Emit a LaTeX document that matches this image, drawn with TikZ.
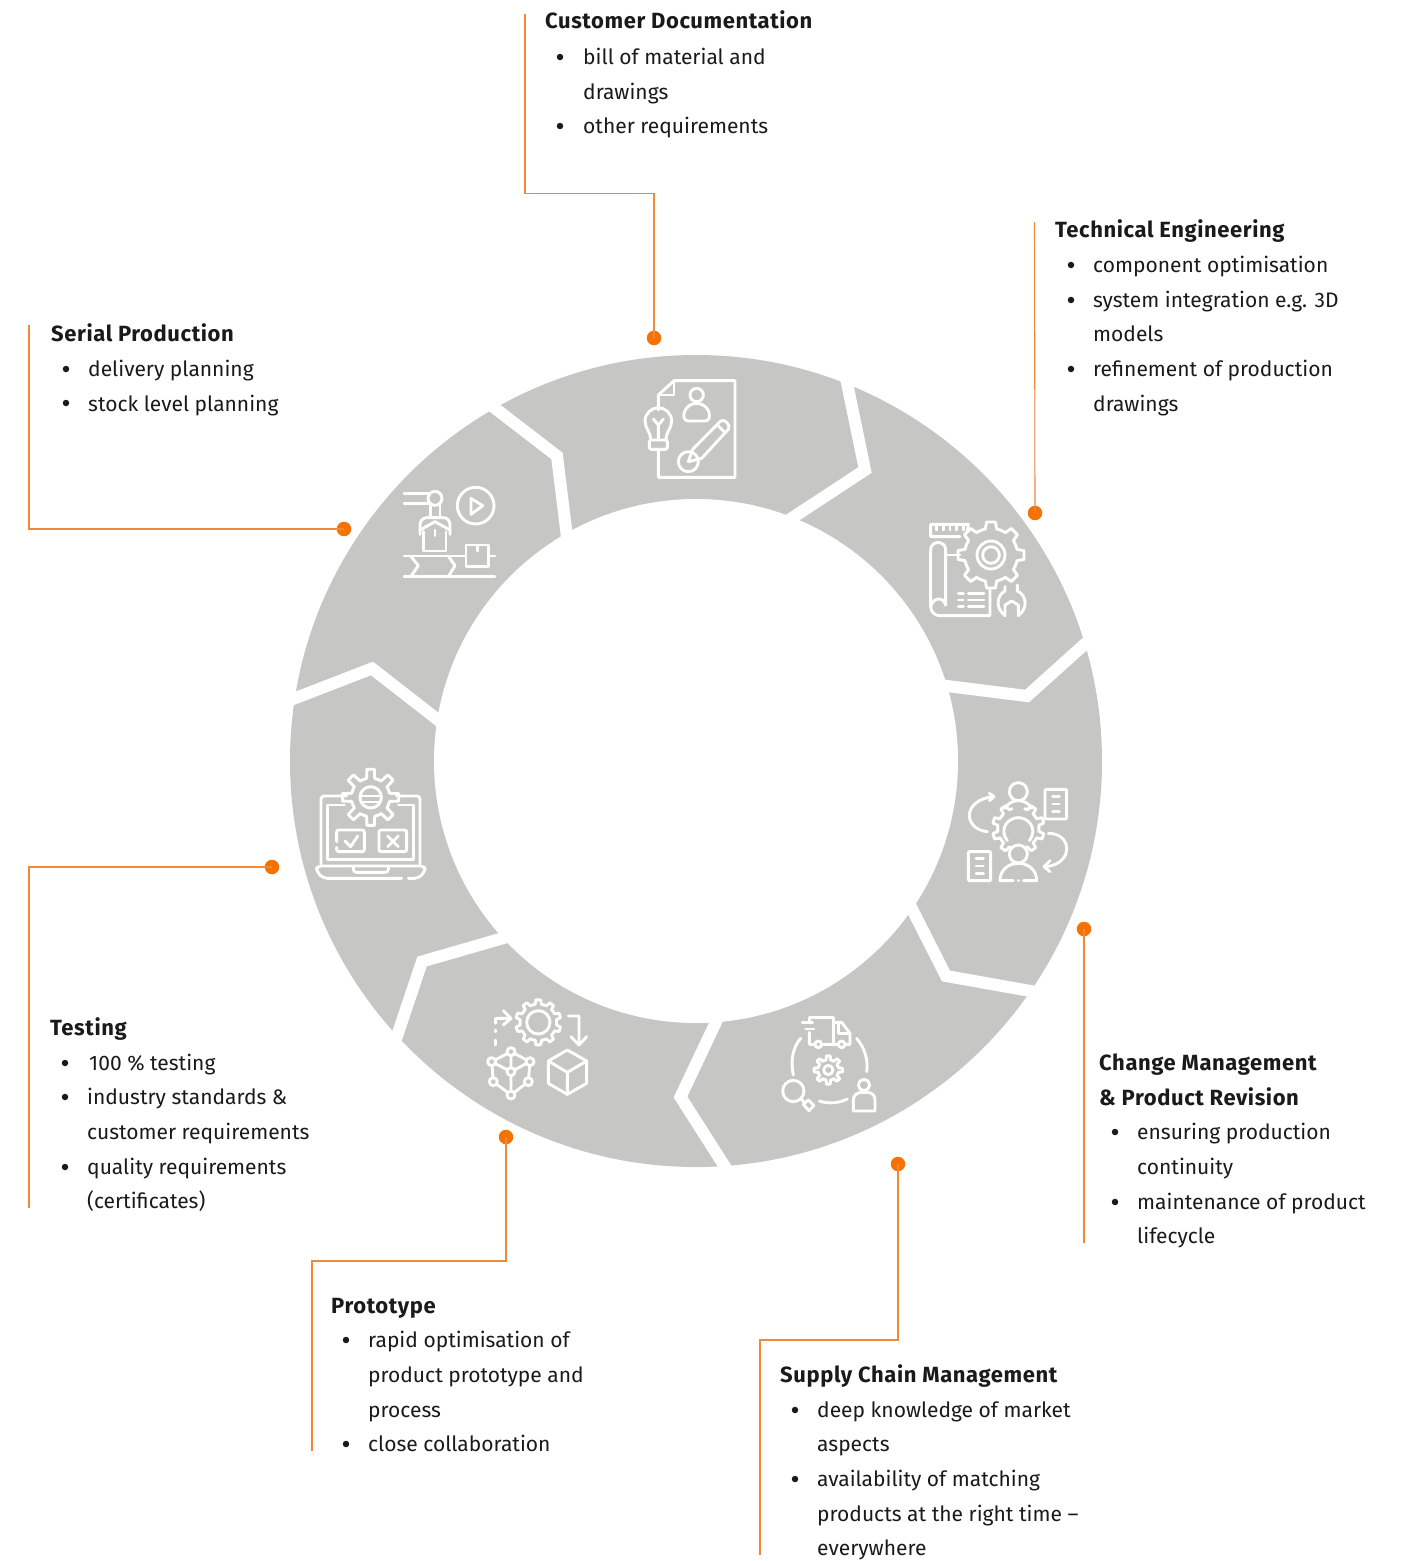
\documentclass[tikz,border=0pt]{standalone}
\usepackage{fontspec}
\setmainfont{Fira Sans}
\definecolor{ringg}{HTML}{C6C6C5}
\definecolor{orangeL}{HTML}{F08A38}
\definecolor{orangeD}{HTML}{F57100}
\definecolor{inkc}{HTML}{1A1A1A}
\tikzset{
 conn/.style={draw=orangeL,line width=1.1pt},
 dotn/.style={circle,fill=orangeD,inner sep=0pt,minimum size=14.5pt},
 cutl/.style={draw=white,line width=12pt,line join=miter},
 head/.style={anchor=base west,inner sep=0pt,text=inkc,font=\fontsize{22pt}{22pt}\selectfont\bfseries\addfontfeature{LetterSpace=2.7}},
 txt/.style={anchor=base west,inner sep=0pt,text=inkc,font=\fontsize{21pt}{21pt}\selectfont},
 bul/.style={circle,fill=inkc,inner sep=0pt,minimum size=6.5pt},
 ic/.style={draw=white,line width=2.9pt,line join=round,line cap=round,fill=none},
 icscope/.style={shift={(#1)},x=.33333pt,y=-.33333pt},
}
\newcommand\gearic[6]{% cx cy rin rout n teeth
  \pgfmathsetmacro\gstep{360/#5}
  \foreach \gi in {#6}{
    \pgfmathsetmacro\ga{90+\gi*\gstep}
    \draw[ic,shift={(#1,#2)}] (\ga-.5*\gstep:#3) -- (\ga-.27*\gstep:#3) -- (\ga-.17*\gstep:#4) -- (\ga+.17*\gstep:#4) -- (\ga+.27*\gstep:#3) -- (\ga+.5*\gstep:#3);
  }}
\begin{document}
\begin{tikzpicture}[x=1pt,y=-1pt]
\useasboundingbox (0,0) rectangle (1404,1561);
\fill[white] (0,0) rectangle (1404,1561);
% ring
\fill[ringg] (696,761) circle[radius=406];
\fill[white] (696,761) circle[radius=262];
% cuts between the seven arrows
\draw[cutl] (844.5,370) -- (847,383) -- (865,470) -- (792,518) -- (782,524.5);
\draw[cutl] (1096,634) -- (1086,643) -- (1027,696) -- (947,686) -- (933,684);
\draw[cutl] (1045,993.5) -- (1030.5,991) -- (946,976) -- (912.5,910) -- (906,897);
\draw[cutl] (732,1178) -- (724.5,1166) -- (680.5,1097) -- (715.5,1023) -- (720,1013);
\draw[cutl] (392,1050) -- (397,1036) -- (422,961.5) -- (503.5,938) -- (516,934.5);
\draw[cutl] (280,703.5) -- (293,699) -- (372,668.5) -- (437.5,719.5) -- (448,727.5);
\draw[cutl] (484,400) -- (494,407.5) -- (557,456) -- (566.5,533) -- (568,545);
% Icon: customer documentation
\begin{scope}[icscope={620,360}]
 \draw[ic] (115,150) -- (115,105) -- (162,62) -- (345,62) -- (345,352) -- (115,352) -- (115,270);
 \draw[ic] (115,105) -- (162,105) -- (162,62);
 \draw[ic] (92,240) .. controls (92,215) and (75,205) .. (75,183) .. controls (75,160) and (95,143) .. (115,143) .. controls (135,143) and (155,160) .. (155,183) .. controls (155,205) and (138,215) .. (138,240);
 \draw[ic,rounded corners=2pt] (88,240) -- (142,240) -- (142,268) -- (88,268) -- cycle;
 \draw[ic] (115,235) -- (115,195) (100,177) -- (115,195) -- (130,177);
 \draw[ic] (230,105) circle[radius=20];
 \draw[ic] (205,183) .. controls (180,183) and (190,130) .. (230,130) .. controls (270,130) and (280,183) .. (255,183) -- cycle;
 \draw[ic] (205,305) circle[radius=30];
 \draw[ic] (218,268) -- (302,183) .. controls (312,175) and (335,195) .. (325,208) -- (245,295);
 \draw[ic] (218,268) -- (205,305) -- (245,295);
 \draw[ic] (292,195) -- (315,218);
\end{scope}
% Icon: technical engineering
\begin{scope}[icscope={910,505}]
 \draw[ic] (172,80) -- (175,58) -- (62,58) -- (62,95) -- (150,95);
 \foreach \tx in {80,100,120,140,160}{\draw[ic] (\tx,58) -- (\tx,75);}
 \gearic{243}{150}{80}{100}{8}{0,...,7}
 \draw[ic] (243,150) circle[radius=42];
 \draw[ic] (243,150) circle[radius=25];
 \draw[ic] (107,300) -- (107,135) .. controls (107,105) and (62,105) .. (62,135) -- (62,305) .. controls (62,320) and (75,332) .. (88,332) -- (240,332) -- (240,250);
 \draw[ic] (107,300) .. controls (100,275) and (70,275) .. (62,305);
 \draw[ic] (107,150) -- (150,150);
 \foreach \ty in {265,285,305}{\draw[ic] (145,\ty) -- (160,\ty) (175,\ty) -- (222,\ty);}
 \draw[ic] (285,245) -- (285,258) .. controls (260,270) and (255,310) .. (285,332) -- (285,300) -- (305,288) -- (325,300) -- (325,332) .. controls (355,310) and (350,270) .. (322,258) -- (322,240);
\end{scope}
% Icon: change management
\begin{scope}[icscope={950,770}]
 \draw[ic] (205,65) circle[radius=27];
 \draw[ic] (165,115) .. controls (175,98) and (190,92) .. (205,92) .. controls (220,92) and (235,98) .. (245,115);
 \gearic{205}{175}{62}{78}{10}{2,3,4,6,7,8,1,9}
 \draw[ic] (172,212) .. controls (145,175) and (175,143) .. (205,143) .. controls (235,143) and (265,175) .. (238,212);
 \draw[ic] (205,252) circle[radius=27];
 \draw[ic] (190,332) -- (150,332) .. controls (150,300) and (175,280) .. (205,280) .. controls (235,280) and (260,300) .. (260,332) -- (220,332);
 \draw[ic] (205,332) -- (205,332.1);
 \draw[ic,rounded corners=1pt] (285,58) rectangle (350,147);
 \foreach \ty in {80,102,125}{\draw[ic] (308,\ty) -- (328,\ty);}
 \draw[ic,rounded corners=1pt] (55,245) rectangle (122,332);
 \foreach \ty in {265,288,310}{\draw[ic] (78,\ty) -- (100,\ty);}
 \draw[ic] (112,185) .. controls (40,178) and (35,90) .. (130,80);
 \draw[ic] (118,70) -- (132,80) -- (118,92);
 \draw[ic] (295,190) .. controls (370,190) and (370,285) .. (285,290);
 \draw[ic] (300,272) -- (282,290) -- (300,305);
\end{scope}
% Icon: supply chain
\begin{scope}[icscope={770,1005}]
 \draw[ic] (118,82) -- (118,118) -- (135,118) (155,118) -- (205,118) (225,118) -- (240,118) -- (240,85) -- (215,52) -- (190,52);
 \draw[ic] (118,38) -- (190,38) -- (190,118);
 \draw[ic] (118,38) -- (118,50) (97,52) -- (128,52) (107,72) -- (132,72);
 \draw[ic] (205,55) -- (205,85) -- (238,85);
 \draw[ic] (145,118) circle[radius=10];
 \draw[ic] (215,118) circle[radius=10];
 \draw[ic] (92,100) .. controls (70,125) and (60,165) .. (70,210);
 \draw[ic] (260,100) .. controls (285,130) and (295,165) .. (290,200);
 \draw[ic] (148,288) .. controls (175,297) and (205,295) .. (232,282);
 \gearic{175}{195}{31}{43}{8}{0,...,7}
 \draw[ic] (175,195) circle[radius=14];
 \draw[ic] (70,258) circle[radius=32];
 \draw[ic] (92,280) -- (102,291);
 \draw[ic] (100,298) -- (115,285) -- (132,302) -- (117,317) -- cycle;
 \draw[ic] (282,240) circle[radius=17];
 \draw[ic] (250,318) -- (250,285) .. controls (250,270) and (262,262) .. (275,262) -- (290,262) .. controls (305,262) and (315,270) .. (315,285) -- (315,318) -- cycle;
\end{scope}
% Icon: prototype
\begin{scope}[icscope={475,990}]
 \gearic{190}{97}{55}{68}{10}{0,...,9}
 \draw[ic] (190,97) circle[radius=35];
 \draw[ic] (62,100) -- (62,85) -- (105,85) (85,62) -- (108,85) -- (85,105);
 \draw[ic] (62,120) -- (62,125) (62,150) -- (62,165);
 \draw[ic] (280,78) -- (312,78) -- (312,165) (288,140) -- (312,165) -- (335,140);
 \draw[ic] (108,185) -- (50,215) -- (55,275) -- (108,315) -- (160,275) -- (165,215) -- cycle;
 \draw[ic] (50,215) -- (108,245) -- (165,215) (108,245) -- (108,315) (108,185) -- (108,245);
 \foreach \nx/\ny in {108/185,50/215,165/215,108/245,55/275,160/275,108/315}{\draw[ic,fill=ringg] (\nx,\ny) circle[radius=12];}
 \draw[ic] (277,180) -- (335,213) -- (335,280) -- (277,313) -- (220,280) -- (220,213) -- cycle;
 \draw[ic] (220,213) -- (277,247) -- (335,213) (277,247) -- (277,313);
\end{scope}
% Icon: testing
\begin{scope}[icscope={305,760}]
 \draw[ic,rounded corners=3pt] (48,312) -- (48,108) -- (125,108);
 \draw[ic,rounded corners=3pt] (275,108) -- (345,108) -- (345,312);
 \draw[ic] (118,135) -- (68,135) -- (68,298) -- (325,298) -- (325,135) -- (280,135);
 \draw[ic,rounded corners=4pt] (290,355) -- (55,355) -- (35,335) -- (35,318) -- (360,318) -- (360,335) -- (340,355) -- (310,355);
 \draw[ic,rounded corners=3pt] (145,318) -- (145,337) -- (250,337) -- (250,318);
 \gearic{197}{112}{58}{85}{8}{0,...,7}
 \draw[ic] (197,112) circle[radius=32];
 \draw[ic] (165,108) -- (230,108) (168,126) -- (226,126);
 \draw[ic,rounded corners=2pt] (95,245) -- (95,210) -- (178,210) -- (178,275) -- (95,275) -- (95,262);
 \draw[ic] (120,243) -- (137,260) -- (158,228);
 \draw[ic,rounded corners=2pt] (222,210) rectangle (305,275);
 \draw[ic] (248,228) -- (280,260) (280,228) -- (248,260);
\end{scope}
% Icon: serial production
\begin{scope}[icscope={390,475}]
 \draw[ic] (42,55) -- (118,55) (42,85) -- (118,85);
 \draw[ic] (135,70) circle[radius=21];
 \draw[ic] (122,92) -- (122,125) (150,92) -- (150,125);
 \draw[ic] (90,178) -- (90,150) .. controls (90,137) and (100,128) .. (110,128) -- (160,128) .. controls (172,128) and (180,137) .. (180,150) -- (180,178);
 \draw[ic] (90,165) -- (135,140) -- (180,165);
 \draw[ic] (100,170) -- (100,228) -- (168,228) -- (168,170);
 \draw[ic] (135,165) -- (135,182);
 \draw[ic] (257,92) circle[radius=55];
 \draw[ic] (243,70) -- (278,92) -- (243,118) -- cycle;
 \draw[ic] (42,243) -- (228,243) (295,243) -- (315,243) (42,305) -- (315,305);
 \draw[ic] (62,243) -- (85,272) -- (62,305) (175,243) -- (195,272) -- (175,305);
 \draw[ic] (228,210) rectangle (295,275);
 \draw[ic] (262,210) -- (262,228);
\end{scope}
% Customer Documentation
\node[dotn] (cdDot) at (654,338) {};
\coordinate (cdEnd) at (525,14);
\coordinate (cdB1) at (525,193.5);
\coordinate (cdB2) at (654,193.5);
\draw[conn] (cdEnd) -- (cdB1) -- (cdB2) -- (cdDot.center);
\node[head] (cdH) at (545,28) {Customer Documentation};
\node[bul] (cdB) at (560,57) {};
\node[txt] (cdA) at (583,64) {bill of material and};
\node[txt] (cdC) at (583,99) {drawings};
\node[bul] (cdE) at (560,126) {};
\node[txt] (cdF) at (583,133) {other requirements};
% Technical Engineering
\node[dotn] (teDot) at (1035,513) {};
\coordinate (teEnd) at (1034.5,222);
\draw[conn] (teEnd) -- (teDot.center);
\node[head] (teH) at (1055,237) {Technical Engineering};
\node[bul] (teB1) at (1071,265) {};
\node[txt] (teA) at (1093,272) {component optimisation};
\node[bul] (teB2) at (1071,300) {};
\node[txt] (teC) at (1093,307) {system integration e.g. 3D};
\node[txt] (teD) at (1093,341) {models};
\node[bul] (teB3) at (1071,369) {};
\node[txt] (teE) at (1093,376) {refinement of production};
\node[txt] (teF) at (1093,411) {drawings};
% Serial Production
\node[dotn] (spDot) at (344,529) {};
\coordinate (spEnd) at (29,325);
\coordinate (spB1) at (29,529);
\draw[conn] (spEnd) -- (spB1) -- (spDot.center);
\node[head] (spH) at (51,341) {Serial Production};
\node[bul] (spB1n) at (66,369) {};
\node[txt] (spA) at (88,376) {delivery planning};
\node[bul] (spB2n) at (66,403) {};
\node[txt] (spC) at (88,411) {stock level planning};
% Testing
\node[dotn] (tsDot) at (272,867) {};
\coordinate (tsEnd) at (29,1208);
\coordinate (tsB1) at (29,867);
\draw[conn] (tsEnd) -- (tsB1) -- (tsDot.center);
\node[head] (tsH) at (50,1035) {Testing};
\node[bul] (tsB1n) at (65,1063) {};
\node[txt] (tsA) at (89,1070) {100 \% testing};
\node[bul] (tsB2n) at (65,1097) {};
\node[txt] (tsC) at (87,1104) {industry standards \&};
\node[txt] (tsD) at (87,1139) {customer requirements};
\node[bul] (tsB3n) at (65,1167) {};
\node[txt] (tsE) at (87,1174) {quality requirements};
\node[txt] (tsF) at (87,1208) {(certificates)};
% Prototype
\node[dotn] (prDot) at (506,1137) {};
\coordinate (prEnd) at (312,1451);
\coordinate (prB1) at (312,1261);
\coordinate (prB2) at (506,1261);
\draw[conn] (prEnd) -- (prB1) -- (prB2) -- (prDot.center);
\node[head] (prH) at (331,1313) {Prototype};
\node[bul] (prB1n) at (346,1340) {};
\node[txt] (prA) at (368,1347) {rapid optimisation of};
\node[txt] (prC) at (368,1382) {product prototype and};
\node[txt] (prD) at (368,1417) {process};
\node[bul] (prB2n) at (346,1444) {};
\node[txt] (prE) at (368,1451) {close collaboration};
% Supply Chain Management
\node[dotn] (scDot) at (898,1164) {};
\coordinate (scEnd) at (760,1555);
\coordinate (scB1) at (760,1340);
\coordinate (scB2) at (898,1340);
\draw[conn] (scEnd) -- (scB1) -- (scB2) -- (scDot.center);
\node[head] (scH) at (780,1382) {Supply Chain Management};
\node[bul] (scB1n) at (795,1410) {};
\node[txt] (scA) at (817,1417) {deep knowledge of market};
\node[txt] (scC) at (817,1451) {aspects};
\node[bul] (scB2n) at (795,1479) {};
\node[txt] (scD) at (817,1486) {availability of matching};
\node[txt] (scE) at (817,1521) {products at the right time –};
\node[txt] (scF) at (817,1555) {everywhere};
% Change Management
\node[dotn] (cmDot) at (1084,929) {};
\coordinate (cmEnd) at (1084,1243);
\draw[conn] (cmEnd) -- (cmDot.center);
\node[head] (cmH) at (1099,1070) {Change Management};
\node[head] (cmH2) at (1099,1105) {\& Product Revision};
\node[bul] (cmB1) at (1115,1132) {};
\node[txt] (cmA) at (1137,1139) {ensuring production};
\node[txt] (cmC) at (1137,1174) {continuity};
\node[bul] (cmB2) at (1115,1202) {};
\node[txt] (cmD) at (1137,1209) {maintenance of product};
\node[txt] (cmE) at (1137,1243) {lifecycle};
\end{tikzpicture}
\end{document}
